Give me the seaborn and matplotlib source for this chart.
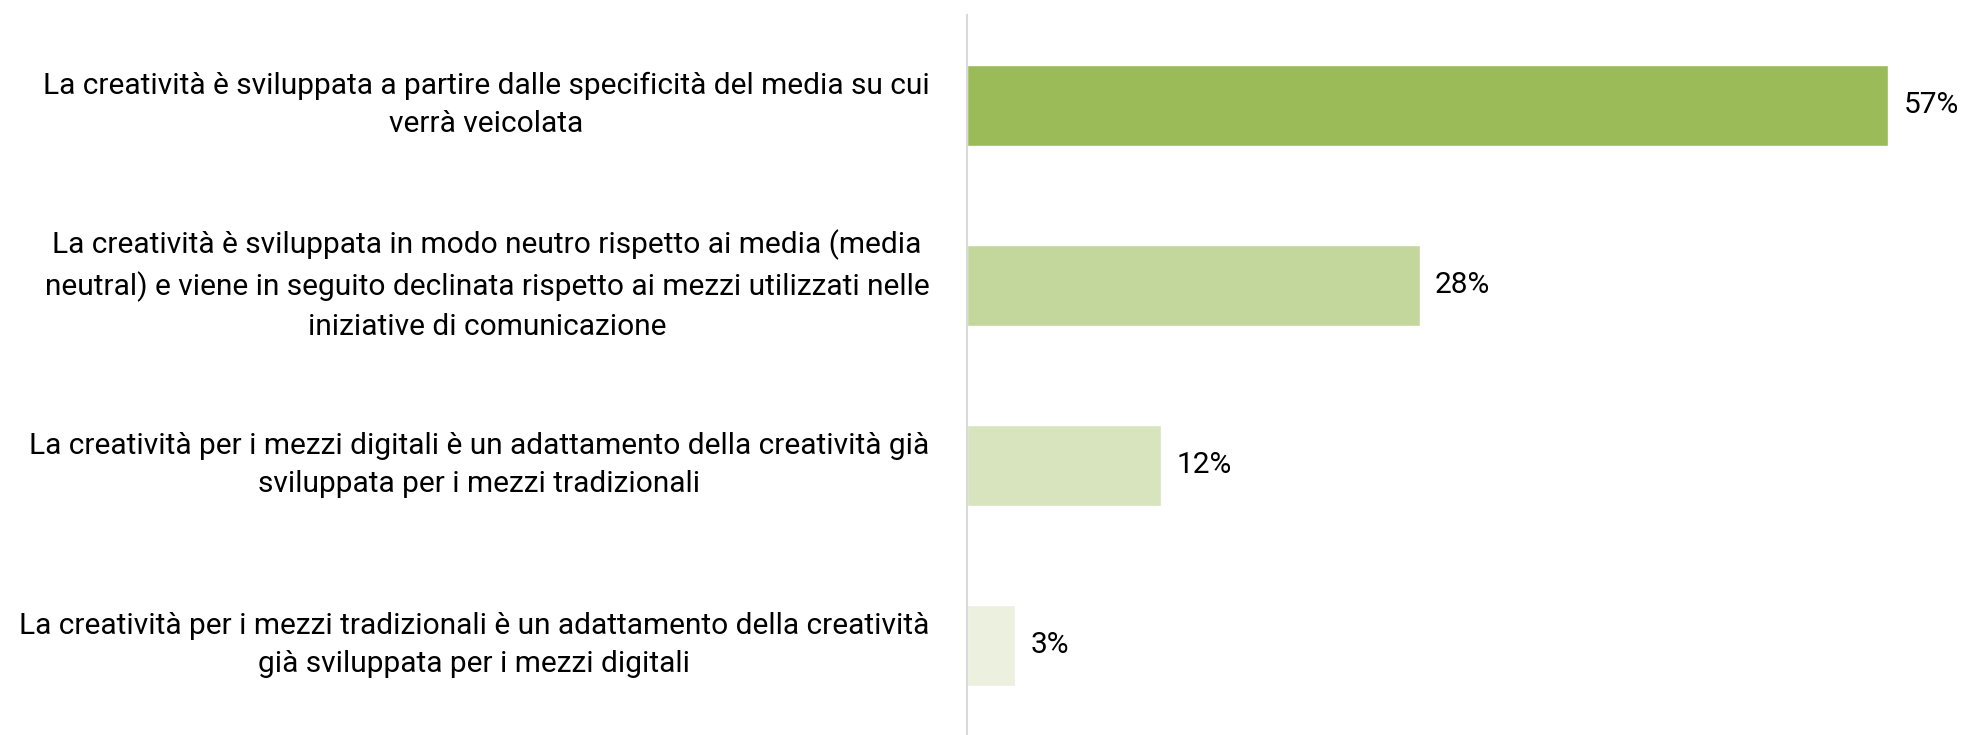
import matplotlib
matplotlib.use("Agg")
import matplotlib.pyplot as plt
import seaborn as sns

categories = [
    "La creatività è sviluppata a partire dalle specificità del media su cui\nverrà veicolata",
    "La creatività è sviluppata in modo neutro rispetto ai media (media\nneutral) e viene in seguito declinata rispetto ai mezzi utilizzati nelle\niniziative di comunicazione",
    "La creatività per i mezzi digitali è un adattamento della creatività già\nsviluppata per i mezzi tradizionali",
    "La creatività per i mezzi tradizionali è un adattamento della creatività\ngià sviluppata per i mezzi digitali",
]
values = [57, 28, 12, 3]
bar_colors = ["#9BBB59", "#C3D69B", "#D7E4BD", "#EBF1DE"]

sns.set_theme(style="white")
plt.rcParams["font.family"] = ["Roboto", "DejaVu Sans"]

fig = plt.figure(figsize=(19.61, 7.35), dpi=100)
ax = fig.add_axes([967 / 1961, 0.0, 986 / 1961, 720 / 735])

sns.barplot(x=values, y=categories, hue=categories, palette=bar_colors,
            legend=False, width=0.45, saturation=1, ax=ax)

ax.set_xlim(0, 61)
ax.set_xlabel("")
ax.set_ylabel("")
ax.set_xticks([])
for s in ["top", "right", "bottom"]:
    ax.spines[s].set_visible(False)
ax.spines["left"].set_color("#D9D9D9")
ax.spines["left"].set_linewidth(1.5)

# category labels: right-aligned block, centred lines, centred on each bar
ax.tick_params(axis="y", length=0, pad=27)
ax.set_yticks(range(len(categories)))
ax.set_yticklabels(categories, fontsize=21.5, color="black",
                   va="center", multialignment="center", linespacing=1.48)

for cont in ax.containers:
    ax.bar_label(cont, fmt="%d%%", padding=11, fontsize=21.5, color="black")

fig.savefig("out.png", dpi=100, facecolor="white")
